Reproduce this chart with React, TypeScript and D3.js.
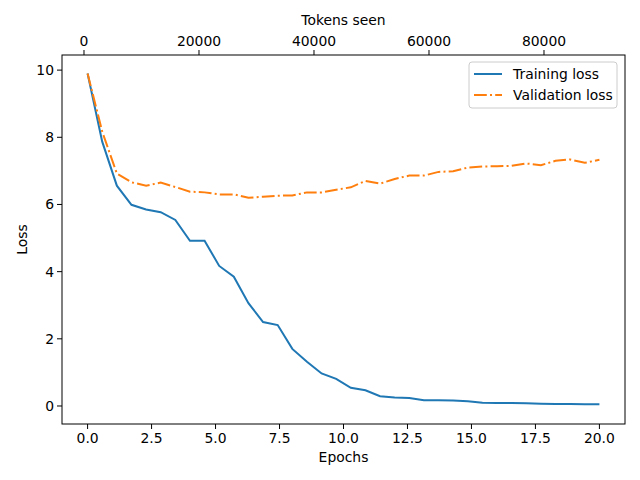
import * as d3 from "d3";

const trainLoss = [9.9, 7.87, 6.56, 5.99, 5.85, 5.77, 5.54, 4.92, 4.92, 4.17, 3.85, 3.06, 2.5, 2.41, 1.7, 1.32, 0.97, 0.81, 0.54, 0.47, 0.29, 0.25, 0.24, 0.17, 0.17, 0.16, 0.14, 0.1, 0.09, 0.09, 0.08, 0.07, 0.06, 0.06, 0.05, 0.05];
const valLoss = [9.9, 8.17, 6.92, 6.66, 6.56, 6.65, 6.52, 6.38, 6.36, 6.3, 6.3, 6.2, 6.23, 6.26, 6.27, 6.36, 6.36, 6.44, 6.51, 6.7, 6.62, 6.76, 6.86, 6.86, 6.97, 6.99, 7.1, 7.13, 7.14, 7.15, 7.22, 7.17, 7.3, 7.34, 7.24, 7.33];
const epochTicks = [0, 2.5, 5, 7.5, 10, 12.5, 15, 17.5, 20];
const tokenTicks = [0, 20000, 40000, 60000, 80000];
const lossTicks = [0, 2, 4, 6, 8, 10];

const W = 640, H = 480;
const L = 62, R = 625, T = 55, B = 424;
const FONT = "DejaVu Sans";
const FS = 13.9;

export default function App() {
  const epochs = trainLoss.map((_, i) => (20 * i) / (trainLoss.length - 1));
  const x = d3.scaleLinear().domain([-1, 21]).range([L, R]);
  const xTop = d3.scaleLinear().domain([-3826, 94087]).range([L, R]);
  const y = d3.scaleLinear().domain([-0.536, 10.45]).range([B, T]);
  const line = d3.line<number>().x((_, i) => x(epochs[i])).y(d => y(d));

  return (
    <svg width={W} height={H} style={{ position: "absolute", left: 0, top: 0 }} fontFamily={FONT}>
      <rect width={W} height={H} fill="#fff" />
      <path d={line(trainLoss) ?? ""} fill="none" stroke="#1f77b4" strokeWidth={2} />
      <path d={line(valLoss) ?? ""} fill="none" stroke="#ff7f0e" strokeWidth={2} strokeDasharray="12.8,3.2,2,3.2" />
      <rect x={L} y={T} width={R - L} height={B - T} fill="none" stroke="#000" strokeWidth={1} />
      {epochTicks.map(t => (
        <g key={t} transform={`translate(${x(t)},${B})`}>
          <line y2={5} stroke="#000" />
          <text y={19} textAnchor="middle" fontSize={FS}>{t.toFixed(1)}</text>
        </g>
      ))}
      {tokenTicks.map(t => (
        <g key={t} transform={`translate(${xTop(t)},${T})`}>
          <line y2={-5} stroke="#000" />
          <text y={-9} textAnchor="middle" fontSize={FS}>{t}</text>
        </g>
      ))}
      {lossTicks.map(t => (
        <g key={t} transform={`translate(${L},${y(t)})`}>
          <line x2={-5} stroke="#000" />
          <text x={-8} dy="0.35em" textAnchor="end" fontSize={FS}>{t}</text>
        </g>
      ))}
      <text x={(L + R) / 2} y={462} textAnchor="middle" fontSize={FS}>Epochs</text>
      <text x={(L + R) / 2} y={25} textAnchor="middle" fontSize={FS}>Tokens seen</text>
      <text transform={`translate(27,${(T + B) / 2}) rotate(-90)`} textAnchor="middle" fontSize={FS}>Loss</text>
      <g transform="translate(469,62)">
        <rect width={148} height={46} rx={3} fill="#fff" fillOpacity={0.8} stroke="#ccc" />
        <line x1={5} x2={33} y1={12} y2={12} stroke="#1f77b4" strokeWidth={2} />
        <text x={44} y={17} fontSize={FS}>Training loss</text>
        <line x1={5} x2={33} y1={33} y2={33} stroke="#ff7f0e" strokeWidth={2} strokeDasharray="12.8,3.2,2,3.2" />
        <text x={44} y={38} fontSize={FS}>Validation loss</text>
      </g>
    </svg>
  );
}
